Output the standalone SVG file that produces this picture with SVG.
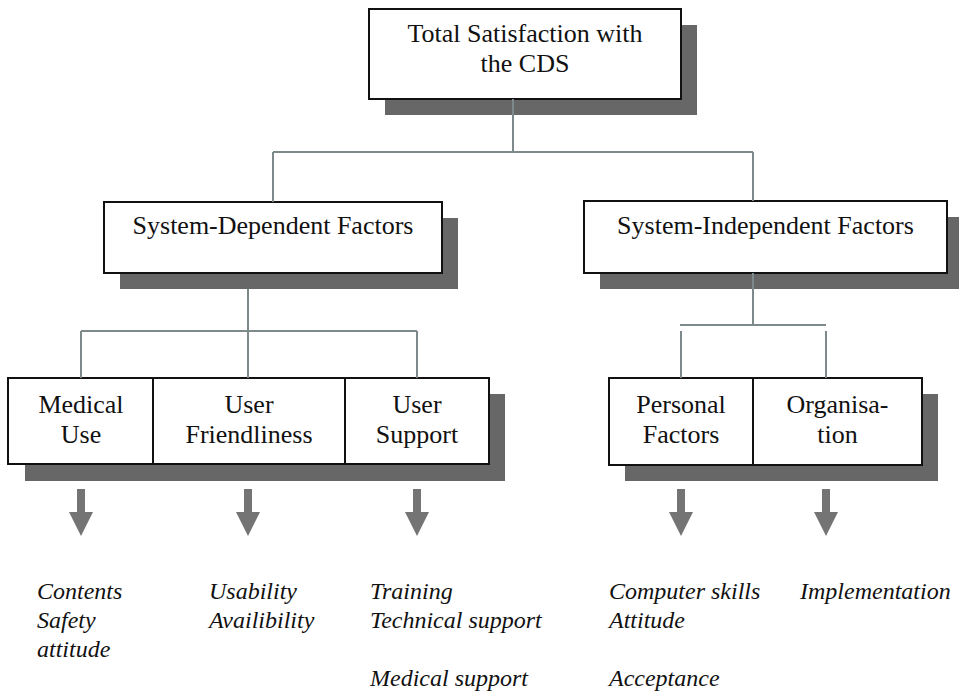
<svg xmlns="http://www.w3.org/2000/svg" width="959" height="694" viewBox="0 0 959 694">
<defs>
<style>
.box{fill:#fff;stroke:#111;stroke-width:2}
.sh{fill:#676767}
.t{font-family:"Liberation Serif",serif;font-size:26px;fill:#111;text-anchor:middle}
.it{font-family:"Liberation Serif",serif;font-size:24px;font-style:italic;fill:#111}
.c{stroke:#7d898b;stroke-width:2;fill:none}
.ar{fill:#747474}
</style>
<symbol id="arrow" overflow="visible"><path class="ar" d="M-4,0 H4 V23 H12 L0,47 L-12,23 H-4 Z"/></symbol>
</defs>
<rect width="959" height="694" fill="#fff"/>

<g id="total">
<rect class="sh" x="385" y="25" width="312" height="90"/>
<rect class="box" x="369" y="9" width="312" height="90"/>
<text class="t" x="525" y="42">Total Satisfaction with</text>
<text class="t" x="525" y="72">the CDS</text>
</g>

<g id="system-dependent">
<rect class="sh" x="120" y="218" width="338" height="71"/>
<rect class="box" x="104" y="202" width="338" height="71"/>
<text class="t" x="273" y="234">System-Dependent Factors</text>
</g>

<g id="system-independent">
<rect class="sh" x="600" y="217" width="363" height="72"/>
<rect class="box" x="584" y="201" width="363" height="72"/>
<text class="t" x="765.5" y="234">System-Independent Factors</text>
</g>

<g id="medical-use">
<rect class="sh" x="25" y="394" width="145" height="87"/>
<rect class="box" x="8" y="378" width="145" height="86"/>
<text class="t" x="81" y="413">Medical</text>
<text class="t" x="81" y="443">Use</text>
</g>
<g id="user-friendliness">
<rect class="sh" x="170" y="394" width="192" height="87"/>
<rect class="box" x="153" y="378" width="192" height="86"/>
<text class="t" x="249" y="413">User</text>
<text class="t" x="249" y="443">Friendliness</text>
</g>
<g id="user-support">
<rect class="sh" x="362" y="394" width="143" height="87"/>
<rect class="box" x="345" y="378" width="144" height="86"/>
<text class="t" x="417" y="413">User</text>
<text class="t" x="417" y="443">Support</text>
</g>

<g id="personal-factors">
<rect class="sh" x="625" y="394" width="144" height="87"/>
<rect class="box" x="609" y="378" width="144" height="87"/>
<text class="t" x="681" y="413">Personal</text>
<text class="t" x="681" y="443">Factors</text>
</g>
<g id="organisation">
<rect class="sh" x="769" y="394" width="169" height="87"/>
<rect class="box" x="753" y="378" width="169" height="87"/>
<text class="t" x="837.5" y="413">Organisa-</text>
<text class="t" x="837.5" y="443">tion</text>
</g>

<g id="connectors">
<path class="c" d="M513,99 V152 M273,152 H753 M273,152 V202 M753,152 V201"/>
<path class="c" d="M248,289 V331 M81,331 H417 M81,331 V378 M248,331 V378 M417,331 V378"/>
<path class="c" d="M753,273 V325 M680,325 H826 M681,331 V378 M826,331 V378"/>
<use href="#arrow" x="81" y="489"/>
<use href="#arrow" x="248" y="489"/>
<use href="#arrow" x="417" y="489"/>
<use href="#arrow" x="681" y="489"/>
<use href="#arrow" x="826" y="489"/>
</g>

<g id="medical-use-items">
<text class="it" x="37" y="599">Contents</text>
<text class="it" x="37" y="628">Safety</text>
<text class="it" x="37" y="657">attitude</text>
</g>
<g id="user-friendliness-items">
<text class="it" x="209" y="599">Usability</text>
<text class="it" x="209" y="628">Availibility</text>
</g>
<g id="user-support-items">
<text class="it" x="370" y="599">Training</text>
<text class="it" x="370" y="628">Technical support</text>
<text class="it" x="370" y="686">Medical support</text>
</g>
<g id="personal-factors-items">
<text class="it" x="609" y="599">Computer skills</text>
<text class="it" x="609" y="628">Attitude</text>
<text class="it" x="609" y="686">Acceptance</text>
</g>
<g id="organisation-items">
<text class="it" x="800" y="599">Implementation</text>
</g>
</svg>
